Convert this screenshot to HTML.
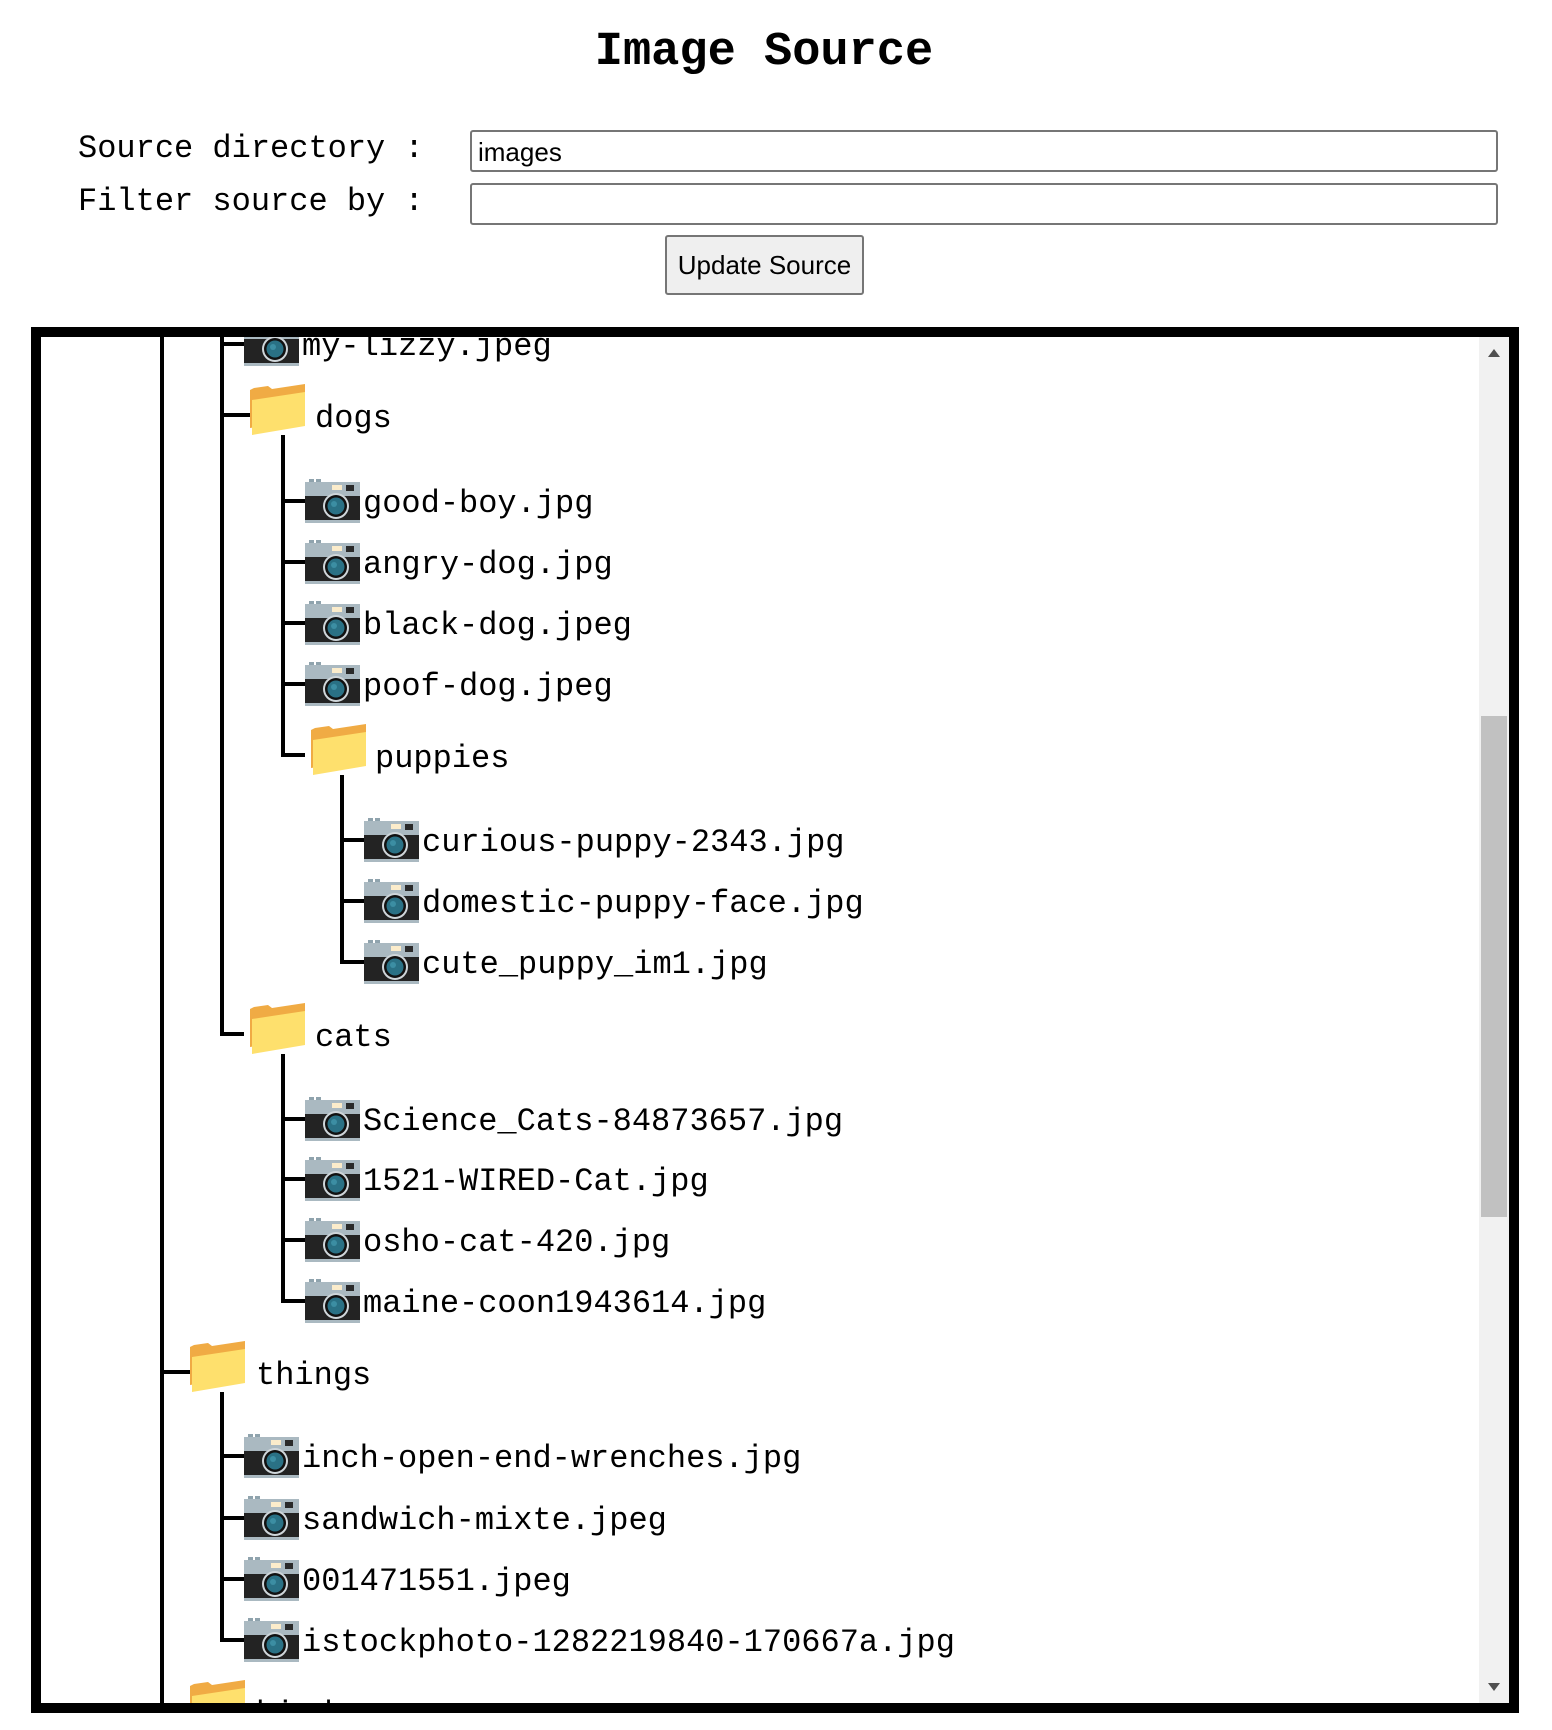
<!DOCTYPE html>
<html><head><meta charset="utf-8"><style>
html,body{margin:0;padding:0;background:#fff;width:1552px;height:1730px;overflow:hidden;position:relative}
.t{position:absolute;font-family:"Liberation Mono",monospace;color:#000;white-space:pre}
.inp{position:absolute;box-sizing:border-box;border:2px solid #767676;border-radius:3px;background:#fff;font-family:"Liberation Sans",sans-serif;font-size:26px}
</style></head><body>
<div class="t" style="left:0;width:1528px;text-align:center;top:23px;font-size:47px;font-weight:bold;line-height:60px">Image Source</div>
<div class="t" style="left:78px;top:129px;font-size:32px;line-height:40px">Source directory :</div>
<div class="t" style="left:78px;top:182px;font-size:32px;line-height:40px">Filter source by :</div>
<div class="inp" style="left:470px;top:130px;width:1028px;height:42px;padding:6px 0 0 6px;line-height:28px">images</div>
<div class="inp" style="left:470px;top:183px;width:1028px;height:42px"></div>
<div class="inp" style="left:665px;top:235px;width:199px;height:60px;background:#efefef;text-align:center;line-height:56px">Update Source</div>

<svg style="position:absolute;left:0;top:0" width="1552" height="1730" xmlns="http://www.w3.org/2000/svg">
<defs>
<clipPath id="c"><rect x="41" y="337" width="1438" height="1366"/></clipPath>
<g id="cam">
 <rect x="4" y="0" width="5" height="4" fill="#8fa3ad"/><rect x="11" y="0" width="5" height="4" fill="#8fa3ad"/>
 <rect x="0" y="3" width="55" height="16" fill="#aab9c1"/>
 <rect x="27" y="6" width="10" height="5" fill="#fbeccb"/><rect x="41" y="6" width="8" height="6" fill="#2a2a2a"/>
 <rect x="0" y="17" width="55" height="24" fill="#232323"/>
 <rect x="0" y="41" width="55" height="3" fill="#aab9c1"/>
 <circle cx="31" cy="27" r="13" fill="#cfd6da"/><circle cx="31" cy="27" r="11" fill="#111"/><circle cx="31" cy="27" r="8.5" fill="#2a7185"/><circle cx="29" cy="25" r="3" fill="#3c8ea3"/>
</g>
<g id="fold">
 <path d="M0 6 L0 44 L55 36 L55 0 L22 5 L18 2 L4 4 Z" fill="#f0ab44"/>
 <path d="M2 16 L55 8 L55 42 L2 51 Z" fill="#fee06d"/>
</g>
</defs>
<g clip-path="url(#c)" stroke="#000" stroke-width="4" fill="none">
 <line x1="162" y1="330" x2="162" y2="1710"/>
 <polyline points="222,330 222,1034 244,1034"/>
 <line x1="222" y1="344" x2="244" y2="344"/><line x1="222" y1="415" x2="250" y2="415"/>
 <polyline points="283,435 283,755 305,755"/>
 <line x1="283" y1="501" x2="305" y2="501"/><line x1="283" y1="562" x2="305" y2="562"/><line x1="283" y1="623" x2="305" y2="623"/><line x1="283" y1="684" x2="305" y2="684"/>
 <polyline points="342,775 342,962 364,962"/>
 <line x1="342" y1="840" x2="364" y2="840"/><line x1="342" y1="901" x2="364" y2="901"/>
 <polyline points="283,1054 283,1301 305,1301"/>
 <line x1="283" y1="1119" x2="305" y2="1119"/><line x1="283" y1="1179" x2="305" y2="1179"/><line x1="283" y1="1240" x2="305" y2="1240"/>
 <line x1="162" y1="1372" x2="190" y2="1372"/>
 <polyline points="222,1392 222,1640 244,1640"/>
 <line x1="222" y1="1456" x2="244" y2="1456"/><line x1="222" y1="1518" x2="244" y2="1518"/><line x1="222" y1="1579" x2="244" y2="1579"/>
</g>
<g clip-path="url(#c)">
 <use href="#cam" x="244" y="322"/>
 <use href="#fold" x="250" y="384"/>
 <use href="#cam" x="305" y="479"/><use href="#cam" x="305" y="540"/><use href="#cam" x="305" y="601"/><use href="#cam" x="305" y="662"/>
 <use href="#fold" x="311" y="724"/>
 <use href="#cam" x="364" y="818"/><use href="#cam" x="364" y="879"/><use href="#cam" x="364" y="940"/>
 <use href="#fold" x="250" y="1003"/>
 <use href="#cam" x="305" y="1097"/><use href="#cam" x="305" y="1157"/><use href="#cam" x="305" y="1218"/><use href="#cam" x="305" y="1279"/>
 <use href="#fold" x="190" y="1341"/>
 <use href="#cam" x="244" y="1434"/><use href="#cam" x="244" y="1496"/><use href="#cam" x="244" y="1557"/><use href="#cam" x="244" y="1618"/>
 <use href="#fold" x="190" y="1680"/>
 <g font-family="Liberation Mono, monospace" font-size="32" fill="#000">
  <text x="302" y="355">my-lizzy.jpeg</text>
  <text x="315" y="427">dogs</text>
  <text x="363" y="512">good-boy.jpg</text>
  <text x="363" y="573">angry-dog.jpg</text>
  <text x="363" y="634">black-dog.jpeg</text>
  <text x="363" y="695">poof-dog.jpeg</text>
  <text x="375" y="767">puppies</text>
  <text x="422" y="851">curious-puppy-2343.jpg</text>
  <text x="422" y="912">domestic-puppy-face.jpg</text>
  <text x="422" y="973">cute_puppy_im1.jpg</text>
  <text x="315" y="1046">cats</text>
  <text x="363" y="1130">Science_Cats-84873657.jpg</text>
  <text x="363" y="1190">1521-WIRED-Cat.jpg</text>
  <text x="363" y="1251">osho-cat-420.jpg</text>
  <text x="363" y="1312">maine-coon1943614.jpg</text>
  <text x="256" y="1384">things</text>
  <text x="302" y="1467">inch-open-end-wrenches.jpg</text>
  <text x="302" y="1529">sandwich-mixte.jpeg</text>
  <text x="302" y="1590">001471551.jpeg</text>
  <text x="302" y="1651">istockphoto-1282219840-170667a.jpg</text>
  <text x="256" y="1723">birds</text>
 </g>
</g>
<rect x="1479" y="337" width="30" height="1366" fill="#f1f1f1"/>
<rect x="1481" y="716" width="26" height="501" fill="#c1c1c1"/>
<path d="M1488 357 L1500 357 L1494 349 Z" fill="#505050"/>
<path d="M1488 1683 L1500 1683 L1494 1691 Z" fill="#505050"/>
<rect x="36" y="332" width="1478" height="1376" fill="none" stroke="#000" stroke-width="10"/>
</svg>
</body></html>
